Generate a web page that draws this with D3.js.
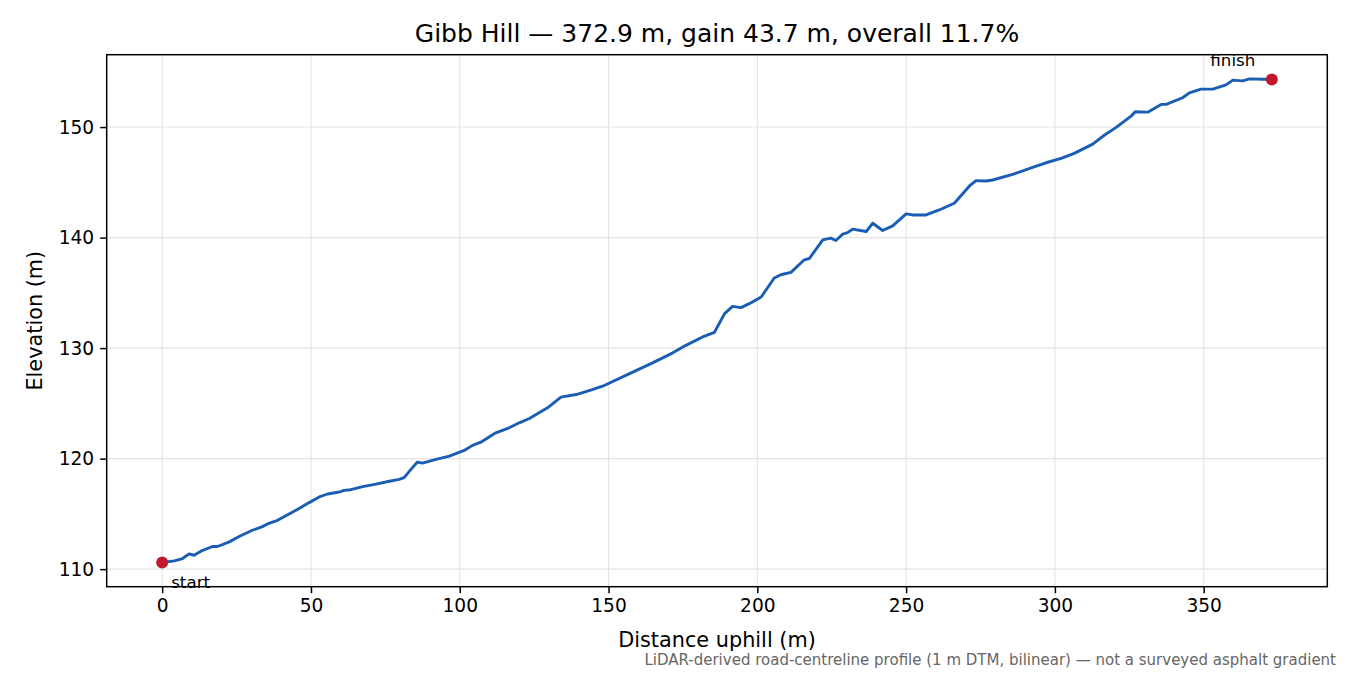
<!DOCTYPE html>
<html>
<head>
<meta charset="utf-8">
<script src="https://cdn.jsdelivr.net/npm/d3@7"></script>
<style>
	body { margin: 0; background: #fff; }
	text { font-family: "DejaVu Sans", sans-serif; fill: #000; }
</style>
</head>
<body>
<div id="graph"></div>
<script>
// profile: distance uphill (m) and elevation (m)
var dist = [0, 4.07, 6.86, 9.05, 10.73, 13.02, 16.9, 18.59, 22.56, 25.84, 30.32, 33.7, 35.39, 38.77,
	42.64, 46.02, 49.4, 52.78, 55.56, 59.54, 61.13, 63.42, 67.39, 71.86, 76.34, 79.62, 81.31, 83.6,
	85.78, 87.47, 92.04, 96.52, 101.5, 104.3, 107.1, 112.1, 116.6, 120.0, 123.4, 129.5, 134.0, 139.1,
	143.5, 148.0, 156.9, 164.8, 171.6, 176.0, 181.6, 185.6, 189.0, 191.7, 194.5, 197.3, 201.3, 205.7,
	207.9, 211.3, 215.8, 217.5, 222.0, 224.7, 226.4, 228.7, 230.3, 232.0, 236.6, 238.8, 242.1, 245.5,
	250.0, 252.2, 256.7, 261.1, 266.2, 271.3, 273.5, 276.8, 279.1, 285.8, 292.5, 297.0, 302.1, 306.5,
	312.7, 316.7, 320.6, 325.6, 327.0, 331.2, 335.7, 337.4, 342.9, 345.2, 349.1, 353.1, 357.5, 359.8,
	363.1, 365.4, 370.0, 372.9];
var elev = [110.6, 110.75, 110.96, 111.38, 111.26, 111.63, 112.05, 112.05, 112.47, 112.95, 113.52, 113.85,
	114.09, 114.42, 114.99, 115.48, 116.02, 116.53, 116.8, 116.98, 117.13, 117.19, 117.46, 117.7, 117.95,
	118.13, 118.28, 119.03, 119.69, 119.6, 119.93, 120.23, 120.74, 121.2, 121.49, 122.34, 122.79, 123.24,
	123.63, 124.6, 125.56, 125.8, 126.16, 126.55, 127.67, 128.66, 129.57, 130.25, 131.01, 131.43, 133.12,
	133.78, 133.66, 134.02, 134.62, 136.34, 136.64, 136.85, 137.99, 138.11, 139.8, 139.95, 139.74, 140.31,
	140.45, 140.76, 140.55, 141.3, 140.64, 141.06, 142.14, 142.05, 142.05, 142.5, 143.11, 144.67, 145.15,
	145.12, 145.21, 145.72, 146.35, 146.77, 147.17, 147.62, 148.46, 149.28, 149.97, 150.99, 151.38, 151.35,
	152.05, 152.05, 152.65, 153.1, 153.43, 153.43, 153.82, 154.25, 154.18, 154.36, 154.33, 154.3];

var xTicks = [0, 50, 100, 150, 200, 250, 300, 350];
var yTicks = [110, 120, 130, 140, 150];
var titleText = "Gibb Hill \u2014 372.9 m, gain 43.7 m, overall 11.7%";
var noteText = "LiDAR-derived road-centreline profile (1 m DTM, bilinear) \u2014 not a surveyed asphalt gradient";

var W = 1350, H = 675;
var margin = {left: 106.7, right: 1350 - 1327.3, top: 54.7, bottom: 675 - 586.7};
var iw = W - margin.left - margin.right, ih = H - margin.top - margin.bottom;

var points = dist.map(function (d, i) { return {x: d, y: elev[i]}; });

// matplotlib-like 5% padding
var xMin = d3.min(dist), xMax = d3.max(dist), xPad = (xMax - xMin) * 0.05;
var yMin = d3.min(elev), yMax = d3.max(elev), yPad = (yMax - yMin) * 0.05;

var x = d3.scaleLinear().domain([xMin - xPad, xMax + xPad]).range([0, iw]);
var y = d3.scaleLinear().domain([yMin - yPad, yMax + yPad]).range([ih, 0]);

var svg = d3.select("#graph").append("svg").attr("width", W).attr("height", H);
var g = svg.append("g").attr("transform", "translate(" + margin.left + "," + margin.top + ")");

// grid
g.append("g").selectAll("line").data(xTicks).enter().append("line")
	.attr("x1", function (d) { return x(d); }).attr("x2", function (d) { return x(d); })
	.attr("y1", 0).attr("y2", ih).attr("stroke", "#e4e4e4").attr("stroke-width", 1.1);
g.append("g").selectAll("line").data(yTicks).enter().append("line")
	.attr("y1", function (d) { return y(d); }).attr("y2", function (d) { return y(d); })
	.attr("x1", 0).attr("x2", iw).attr("stroke", "#e4e4e4").attr("stroke-width", 1.1);

// axes
var xAxis = g.append("g").attr("transform", "translate(0," + ih + ")")
	.call(d3.axisBottom(x).tickValues(xTicks).tickSize(6.5).tickPadding(6).tickFormat(d3.format("d")));
var yAxis = g.append("g")
	.call(d3.axisLeft(y).tickValues(yTicks).tickSize(6.5).tickPadding(6).tickFormat(d3.format("d")));
[xAxis, yAxis].forEach(function (a) {
	a.select(".domain").remove();
	a.selectAll(".tick line").attr("stroke", "#000").attr("stroke-width", 1.5);
	a.selectAll(".tick text").style("font-size", "18.6px").style("font-family", "DejaVu Sans").attr("fill", "#000");
});

// line
var line = d3.line().x(function (d) { return x(d.x); }).y(function (d) { return y(d.y); });
g.append("path").datum(points).attr("d", line)
	.attr("fill", "none").attr("stroke", "#1a5db4").attr("stroke-width", 2.9)
	.attr("stroke-linejoin", "round").attr("stroke-linecap", "round");

// start / finish markers
var ends = [points[0], points[points.length - 1]];
g.selectAll("circle.end").data(ends).enter().append("circle").attr("class", "end")
	.attr("cx", function (d) { return x(d.x); }).attr("cy", function (d) { return y(d.y); })
	.attr("r", 6).attr("fill", "#c1192b");

g.append("text").attr("x", x(ends[0].x) + 9).attr("y", y(ends[0].y) + 25)
	.style("font-size", "16.7px").attr("fill", "#222").text("start");
g.append("text").attr("x", x(ends[1].x) - 39).attr("y", y(ends[1].y) - 13.5)
	.attr("text-anchor", "middle").style("font-size", "16.7px").attr("fill", "#222").text("finish");

// frame
g.append("rect").attr("width", iw).attr("height", ih).attr("fill", "none")
	.attr("stroke", "#000").attr("stroke-width", 1.5);

// labels
svg.append("text").attr("x", margin.left + iw / 2).attr("y", 42).attr("text-anchor", "middle")
	.style("font-size", "25px").text(titleText);
svg.append("text").attr("x", margin.left + iw / 2).attr("y", 646.5).attr("text-anchor", "middle")
	.style("font-size", "20.8px").text("Distance uphill (m)");
svg.append("text").attr("transform", "translate(41.5," + (margin.top + ih / 2) + ") rotate(-90)")
	.attr("text-anchor", "middle").style("font-size", "20.8px").text("Elevation (m)");
svg.append("text").attr("x", 1336).attr("y", 665).attr("text-anchor", "end")
	.style("font-size", "15px").style("fill", "#666").text(noteText);
</script>
</body>
</html>
